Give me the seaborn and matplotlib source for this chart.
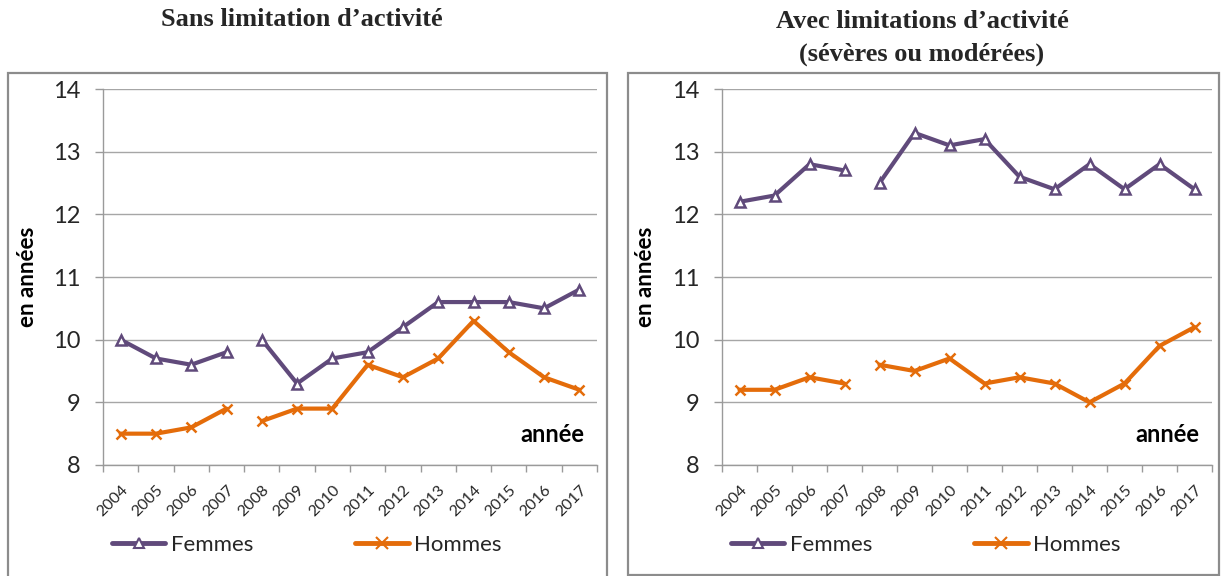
import numpy as np
import pandas as pd
import matplotlib
matplotlib.use("Agg")
import matplotlib.pyplot as plt
from matplotlib.lines import Line2D
from matplotlib.patches import Rectangle
import seaborn as sns

# --- data -------------------------------------------------------------
years = [2004, 2005, 2006, 2007, 2008, 2009, 2010, 2011, 2012, 2013, 2014, 2015, 2016, 2017]
# series break between 2007 and 2008
segment = [0, 0, 0, 0, 1, 1, 1, 1, 1, 1, 1, 1, 1, 1]

sans_femmes = [10.0, 9.7, 9.6, 9.8, 10.0, 9.3, 9.7, 9.8, 10.2, 10.6, 10.6, 10.6, 10.5, 10.8]
sans_hommes = [8.5, 8.5, 8.6, 8.9, 8.7, 8.9, 8.9, 9.6, 9.4, 9.7, 10.3, 9.8, 9.4, 9.2]
avec_femmes = [12.2, 12.3, 12.8, 12.7, 12.5, 13.3, 13.1, 13.2, 12.6, 12.4, 12.8, 12.4, 12.8, 12.4]
avec_hommes = [9.2, 9.2, 9.4, 9.3, 9.6, 9.5, 9.7, 9.3, 9.4, 9.3, 9.0, 9.3, 9.9, 10.2]

titles = ["Sans limitation d\u2019activit\u00e9",
          "Avec limitations d\u2019activit\u00e9\n(s\u00e9v\u00e8res ou mod\u00e9r\u00e9es)"]
y_ticks = [8, 9, 10, 11, 12, 13, 14]

COL_F = "#604A7B"
COL_H = "#E46C0A"
series_style = {"Femmes": (COL_F, "^"), "Hommes": (COL_H, "x")}


def make_df(femmes, hommes):
    n = len(years)
    return pd.DataFrame({
        "pos": list(range(n)) * 2,
        "valeur": femmes + hommes,
        "sexe": ["Femmes"] * n + ["Hommes"] * n,
        "segment": segment * 2,
    })


sns.set_style("white")
plt.rcParams["font.family"] = ["Lato", "DejaVu Sans"]

W, H = 1221, 576
fig = plt.figure(figsize=(W / 100, H / 100), dpi=100)

# chart-area frames (Excel style)
fig.patches.append(Rectangle((8 / W, 1 - 578 / H), 599 / W, (578 - 73) / H,
                             transform=fig.transFigure, fill=False,
                             edgecolor="#8c8c8c", lw=1.6))
fig.patches.append(Rectangle((628 / W, 1 - 575 / H), 591 / W, (575 - 73) / H,
                             transform=fig.transFigure, fill=False,
                             edgecolor="#8c8c8c", lw=1.6))

panels = [
    (make_df(sans_femmes, sans_hommes), 103, 597, 302, 20),
    (make_df(avec_femmes, avec_hommes), 722, 1212, 922, 38),
]

for i, (df, x0, x1, tx, ty) in enumerate(panels):
    ax = fig.add_axes([x0 / W, 1 - 465 / H, (x1 - x0) / W, (465 - 89) / H])
    for sexe, (col, mk) in series_style.items():
        sns.lineplot(data=df[df["sexe"] == sexe], x="pos", y="valeur",
                     units="segment", estimator=None, color=col,
                     marker=mk, lw=3, markersize=7.5, markerfacecolor="white",
                     markeredgecolor=col, markeredgewidth=1.8,
                     legend=False, ax=ax, zorder=3)

    ax.set_xlim(-0.5, len(years) - 0.5)
    ax.set_ylim(8, 14)
    ax.set_yticks(y_ticks)
    ax.set_yticklabels([str(v) for v in y_ticks], fontsize=17, color="#262626")
    ax.set_xticks(np.arange(len(years)))
    ax.set_xticklabels([str(y) for y in years], rotation=45, ha="right",
                       rotation_mode="anchor", fontsize=11.5, color="#262626")
    ax.set_xticks(np.arange(len(years) + 1) - 0.5, minor=True)
    ax.tick_params(axis="x", which="major", length=0, pad=13)
    ax.tick_params(axis="x", which="minor", length=5, width=1, color="#9a9a9a",
                   direction="out", bottom=True)
    ax.tick_params(axis="y", length=6, width=1, color="#9a9a9a",
                   direction="out", left=True, pad=10)
    ax.grid(axis="y", color="#a6a6a6", lw=1)
    ax.set_axisbelow(True)
    for s in ["top", "right"]:
        ax.spines[s].set_visible(False)
    for s in ["left", "bottom"]:
        ax.spines[s].set_color("#9a9a9a")
        ax.spines[s].set_linewidth(1)

    ax.set_xlabel("")
    ax.set_ylabel("en ann\u00e9es", fontsize=16, fontweight="bold", color="black")
    ax.yaxis.set_label_coords((38 - x0) / (x1 - x0) if i == 0 else (656 - x0) / (x1 - x0), 0.5)

    ax.text(0.975, 0.08, "ann\u00e9e", transform=ax.transAxes, ha="right",
            va="center", fontsize=17, fontweight="bold", color="black")

    fig.text(tx / W, 1 - ty / H, titles[i], ha="center", va="center",
             fontsize=19, fontweight="bold", family="Liberation Serif",
             linespacing=1.55)

    handles = [
        Line2D([], [], color=COL_F, lw=3.5, marker="^", markersize=7,
               markerfacecolor="white", markeredgecolor=COL_F, markeredgewidth=1.5),
        Line2D([], [], color=COL_H, lw=3.5, marker="x", markersize=8,
               markeredgecolor=COL_H, markeredgewidth=1.5),
    ]
    fig.legend(handles, ["Femmes", "Hommes"], loc="center left",
               bbox_to_anchor=((x0 + 9) / W, 1 - 545 / H), ncol=2,
               frameon=False, fontsize=16, handlelength=2.4, handletextpad=0.25,
               columnspacing=4.6, borderpad=0, borderaxespad=0)

fig.savefig("out.png", dpi=100)
